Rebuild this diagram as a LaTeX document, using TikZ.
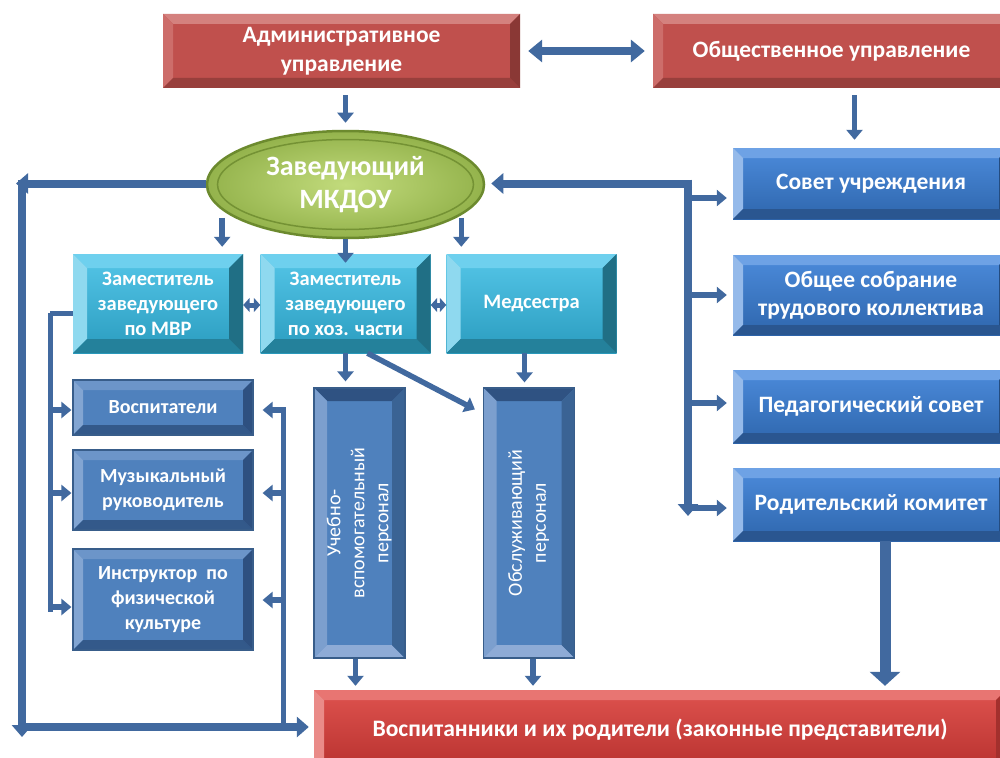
\documentclass[tikz,border=0pt]{standalone}
\usepackage{fontspec}
\usepackage{graphicx}
\setmainfont{Carlito}
\usetikzlibrary{arrows.meta,shapes.geometric}

\definecolor{cred}{HTML}{C0504D}
\definecolor{credT}{HTML}{D4817E}
\definecolor{credL}{HTML}{CD6D6A}
\definecolor{credB}{HTML}{983F3C}
\definecolor{credR}{HTML}{8A3835}
\definecolor{bredTop}{HTML}{DE524E}
\definecolor{bredBot}{HTML}{B8322F}
\definecolor{bredT}{HTML}{E87572}
\definecolor{bredL}{HTML}{EA8B88}
\definecolor{bredB}{HTML}{9C2C2A}
\definecolor{bredR}{HTML}{A3302D}
\definecolor{cyTop}{HTML}{55C6E8}
\definecolor{cyBot}{HTML}{2A9CBF}
\definecolor{cyT}{HTML}{6ED0EE}
\definecolor{cyL}{HTML}{8FD9EF}
\definecolor{cyB}{HTML}{24819B}
\definecolor{cyR}{HTML}{206F85}
\definecolor{blTop}{HTML}{4C8BDB}
\definecolor{blBot}{HTML}{2E66AD}
\definecolor{blT}{HTML}{6EA2E5}
\definecolor{blL}{HTML}{95BAEA}
\definecolor{blB}{HTML}{2A5690}
\definecolor{blR}{HTML}{244C80}
\definecolor{db}{HTML}{4F81BD}
\definecolor{dbT}{HTML}{6C95C9}
\definecolor{dbL}{HTML}{82A5D2}
\definecolor{dbB}{HTML}{33598A}
\definecolor{dbR}{HTML}{2E5080}
\definecolor{dbO}{HTML}{385D8A}
\definecolor{vbT}{HTML}{2F5282}
\definecolor{vbL}{HTML}{7C9FCE}
\definecolor{vbB}{HTML}{8EABD6}
\definecolor{vbR}{HTML}{3A6394}
\definecolor{grIn}{HTML}{C2DB7C}
\definecolor{grOut}{HTML}{94B34C}
\definecolor{grLine}{HTML}{6C8A2E}
\definecolor{arrc}{HTML}{41699F}

\newcommand\bevelfill[5]{%
 \fill[#2] (path picture bounding box.north west) -- (path picture bounding box.north east) -- ([xshift=-#1,yshift=-#1]path picture bounding box.north east) -- ([xshift=#1,yshift=-#1]path picture bounding box.north west) -- cycle;
 \fill[#3] (path picture bounding box.north west) -- ([xshift=#1,yshift=-#1]path picture bounding box.north west) -- ([xshift=#1,yshift=#1]path picture bounding box.south west) -- (path picture bounding box.south west) -- cycle;
 \fill[#4] (path picture bounding box.south west) -- ([xshift=#1,yshift=#1]path picture bounding box.south west) -- ([xshift=-#1,yshift=#1]path picture bounding box.south east) -- (path picture bounding box.south east) -- cycle;
 \fill[#5] (path picture bounding box.south east) -- ([xshift=-#1,yshift=#1]path picture bounding box.south east) -- ([xshift=-#1,yshift=-#1]path picture bounding box.north east) -- (path picture bounding box.north east) -- cycle;
}

\tikzset{
 box/.style={inner sep=0pt, align=center, text=white},
 redbox/.style={box, fill=cred, path picture={\bevelfill{10pt}{credT}{credL}{credB}{credR}},
   font=\bfseries\fontsize{23.5}{28.5}\selectfont, minimum width=357pt, minimum height=74pt},
 botbox/.style={box, top color=bredTop, bottom color=bredBot, path picture={\bevelfill{10pt}{bredT}{bredL}{bredB}{bredR}},
   font=\bfseries\fontsize{23.6}{27}\selectfont, minimum width=692pt, minimum height=80pt},
 cyanbox/.style={box, top color=cyTop, bottom color=cyBot, path picture={\bevelfill{14pt}{cyT}{cyL}{cyB}{cyR}},
   font=\bfseries\fontsize{20.5}{25}\selectfont, minimum width=170pt, minimum height=99pt},
 bluebox/.style={box, top color=blTop, bottom color=blBot, path picture={\bevelfill{10pt}{blT}{blL}{blB}{blR}},
   font=\bfseries\fontsize{23.5}{28}\selectfont, minimum width=276pt},
 dbox/.style={box, fill=db, draw=dbO, line width=1.2pt, path picture={\bevelfill{10pt}{dbT}{dbL}{dbB}{dbR}},
   font=\bfseries\fontsize{20}{25}\selectfont, minimum width=180pt},
 vbox/.style={box, fill=db, draw=dbO, line width=1.2pt, path picture={\bevelfill{13pt}{vbT}{vbL}{vbB}{vbR}},
   font=\fontsize{20}{24}\selectfont, minimum width=91pt, minimum height=270pt},
 zavstyle/.style={ellipse, inner sep=0pt, align=center, text=white, inner color=grIn, outer color=grOut,
   draw=grLine, line width=2.5pt, minimum width=277pt, minimum height=107pt,
   font=\bfseries\fontsize{28}{33}\selectfont,
   path picture={\draw[grLine!80!grOut, line width=1.5pt] (path picture bounding box.center) ellipse [x radius=128pt, y radius=45pt];}},
 arr/.style={draw=arrc, line width=5.5pt, -{Triangle[width=16pt,length=10pt]}},
 sarr/.style={draw=arrc, line width=5pt, {Triangle[width=14pt,length=6.5pt]}-{Triangle[width=14pt,length=6.5pt]}},
 darr/.style={draw=arrc, line width=8pt, {Triangle[width=22pt,length=14pt]}-{Triangle[width=22pt,length=14pt]}},
 bigarr/.style={draw=arrc, line width=11pt, -{Triangle[width=30pt,length=14pt]}},
 trunk/.style={draw=arrc, line width=8pt},
 trunka/.style={trunk, -{Triangle[width=20pt,length=12pt]}},
 brk/.style={draw=arrc, line width=5pt},
}

\begin{document}
\begin{tikzpicture}[x=1pt,y=-1pt]
\clip (0,0) rectangle (1000,757);
\fill[white] (0,0) rectangle (1000,757);

% boxes
\node[redbox] (adm) at (341.5,51) {Административное\\управление};
\node[redbox] (pub) at (831.5,51) {Общественное управление};
\node[zavstyle] (zav) at (345.5,184.5) {Заведующий\\МКДОУ};
\node[cyanbox] (mvr) at (158,303.5) {Заместитель\\заведующего\\по МВР};
\node[cyanbox] (hoz) at (345.5,303.5) {Заместитель\\заведующего\\по хоз. части};
\node[cyanbox] (med) at (531.5,303.5) {Медсестра};
\node[bluebox, minimum height=71pt] (sovet) at (871,183.5) {Совет учреждения};
\node[bluebox, minimum height=80pt] (obsh) at (871,295) {Общее собрание\\трудового коллектива};
\node[bluebox, minimum height=73pt] (ped) at (871,406.5) {Педагогический совет};
\node[bluebox, minimum height=73pt] (rod) at (871,504.5) {Родительский комитет};
\node[dbox, minimum height=55pt] (vosp) at (163,407.5) {Воспитатели};
\node[dbox, minimum height=80pt] (muz) at (163,490) {Музыкальный\\руководитель};
\node[dbox, minimum height=101pt] (instr) at (163,599.5) {Инструктор~~по\\физической\\культуре};
\node[vbox] (uch) at (359.5,523) {\rotatebox{90}{\begin{tabular}{@{}c@{}}Учебно-\\вспомогательный\\персонал\end{tabular}}};
\node[vbox] (obs) at (529,523) {\rotatebox{90}{\begin{tabular}{@{}c@{}}Обслуживающий\\персонал\end{tabular}}};
\node[botbox] (bot) at (660,730) {Воспитанники и их родители (законные представители)};

% coordinates
\coordinate (trT) at (688,183.5);
\coordinate (trB) at (688,516);
\coordinate (L1) at (22,183.5);
\coordinate (L2) at (22,727);
\coordinate (R1) at (283,407);
\coordinate (R2) at (283,727);
\coordinate (B1) at (50,313);
\coordinate (B2) at (50,612);

% top arrows
\draw[darr, shorten <=8pt, shorten >=8pt] (adm.east) -- (pub.west);
\draw[arr, shorten <=7pt, shorten >=7pt] (zav.north |- adm.south) -- (zav.north);
\draw[arr, shorten <=7pt, shorten >=8pt] ([xshift=23pt]pub.south) -- ([xshift=23pt]pub.south |- sovet.north);

% from director
\draw[arr, shorten >=7pt] ([xshift=-21pt,yshift=36pt]mvr.north east) -- ([xshift=-21pt]mvr.north east);
\draw[arr] (zav.south) -- ([yshift=-9pt]hoz.north);
\draw[arr, shorten >=7pt] ([xshift=15pt,yshift=36pt]med.north west) -- ([xshift=15pt]med.north west);

% between deputies
\draw[sarr] ([yshift=-1.5pt]mvr.east) -- ([yshift=-1.5pt]hoz.west);
\draw[sarr] ([yshift=-1.5pt]hoz.east) -- ([yshift=-1.5pt]med.west);

% to staff
\draw[arr, shorten >=6pt] (hoz.south) -- (hoz.south |- uch.north);
\draw[arr] ([xshift=22pt]hoz.south) -- ([xshift=-8pt,yshift=-22pt]obs.north west);
\draw[arr, shorten >=5pt] ([xshift=-7pt]med.south) -- ([xshift=-7pt]med.south |- obs.north);
\draw[arr, shorten >=4pt] ([xshift=-4pt]uch.south) -- ([xshift=-4pt]uch.south |- bot.north);
\draw[arr, shorten >=4pt] ([xshift=4pt]obs.south) -- ([xshift=4pt]obs.south |- bot.north);
\draw[bigarr, shorten >=4pt] ([xshift=14pt]rod.south) -- ([xshift=14pt]rod.south |- bot.north);

% right trunk
\draw[trunka, shorten >=6pt] ([xshift=4pt]trT) -- (zav.east |- trT);
\draw[trunka] ([yshift=4pt]trT) -- (trB);
\draw[arr, shorten >=6pt] (trT |- 0,198) -- ([yshift=-14.5pt]sovet.west);
\draw[arr, shorten >=6pt] (trT |- obsh.west) -- (obsh.west);
\draw[arr, shorten >=6pt] ([yshift=3.5pt]trT |- ped.west) -- ([yshift=3.5pt]ped.west);
\draw[arr, shorten >=6pt] ([yshift=-3.5pt]trT |- rod.west) -- ([yshift=-3.5pt]rod.west);

% left loop
\draw[trunka] (zav.west |- L1) -- ([xshift=-6pt]L1);
\draw[trunka] ([yshift=4pt]L1) -- ([yshift=-10pt]L2);
\draw[trunka, shorten >=5pt] (L2) -- (L2 -| bot.west);

% right bracket
\draw[brk] (R1) -- (R2);
\draw[arr, shorten >=9pt] (R1 |- 0,410) -- (vosp.east |- 0,410);
\draw[arr, shorten >=9pt] (R1 |- 0,493) -- (muz.east |- 0,493);
\draw[arr, shorten >=9pt] (R1 |- 0,600) -- (instr.east |- 0,600);

% left bracket
\draw[brk] ([yshift=-9.5pt]mvr.west) -- (B1);
\draw[brk] (B1) -- (B2);
\draw[arr, shorten >=1pt] (B1 |- 0,410) -- (vosp.west |- 0,410);
\draw[arr, shorten >=1pt] (B1 |- 0,493) -- (muz.west |- 0,493);
\draw[arr, shorten >=1pt] (B1 |- 0,607) -- (instr.west |- 0,607);
\end{tikzpicture}
\end{document}
